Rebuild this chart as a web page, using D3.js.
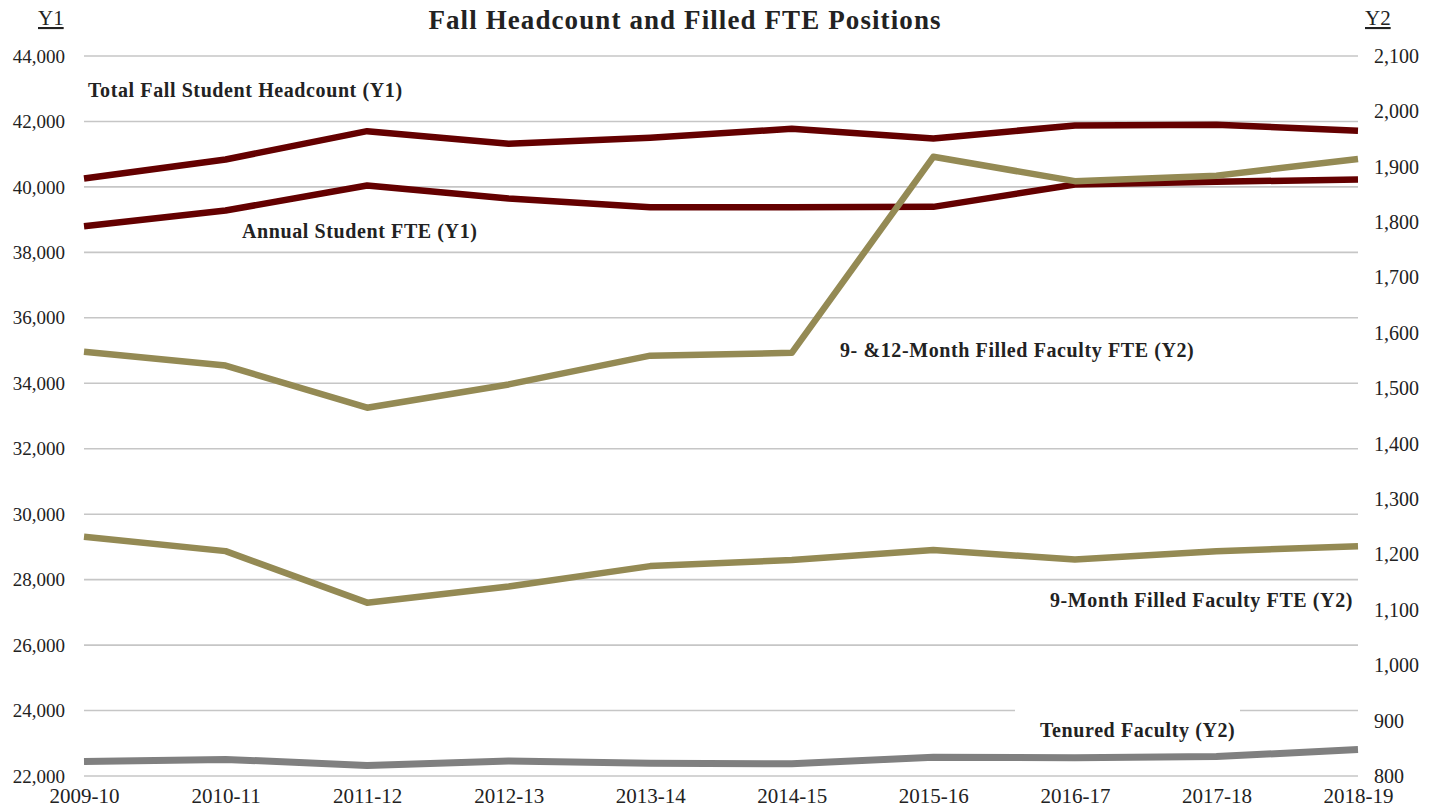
<!DOCTYPE html>
<html>
<head>
<meta charset="utf-8">
<script src="https://cdn.jsdelivr.net/npm/d3@7"></script>
<style>
  body { margin: 0; background: #fff; }
  svg text { font-family: "Liberation Serif", "DejaVu Serif", serif; fill: #222; }
  .tick line { display: none; }
  .domain { display: none; }
</style>
</head>
<body>
<div class="chart"></div>
<script>
// data
const years = ["2009-10", "2010-11", "2011-12", "2012-13", "2013-14", "2014-15", "2015-16", "2016-17", "2017-18", "2018-19"];
const headcount = [40258, 40839, 41703, 41318, 41502, 41777, 41480, 41878, 41899, 41716];
const studentFte = [38801, 39280, 40044, 39647, 39381, 39381, 39390, 40075, 40157, 40228];
const faculty912 = [1566, 1541, 1465, 1507, 1559, 1564, 1918, 1874, 1884, 1914];
const faculty9 = [1232, 1206, 1113, 1142, 1179, 1190, 1208, 1191, 1206, 1215];
const tenured = [826, 830, 819, 827, 823, 822, 834, 833, 835, 848];
const y1Ticks = [22000, 24000, 26000, 28000, 30000, 32000, 34000, 36000, 38000, 40000, 42000, 44000];
const y2Ticks = [800, 900, 1000, 1100, 1200, 1300, 1400, 1500, 1600, 1700, 1800, 1900, 2000, 2100];

const W = 1439, H = 809;
const margin = {top: 56, right: 81, bottom: 33, left: 84},
      width = W - margin.left - margin.right,
      height = H - margin.top - margin.bottom;

const red = "#640000", olive = "#948a54", grey = "#808080";

const svg = d3.select("div.chart").append("svg")
    .attr("width", W)
    .attr("height", H);

const g = svg.append("g")
    .attr("transform", "translate(" + margin.left + "," + margin.top + ")");

const x = d3.scalePoint().domain(years).range([0, width]);
const y1 = d3.scaleLinear().domain([22000, 44000]).range([height, 0]);
const y2 = d3.scaleLinear().domain([800, 2100]).range([height, 0]);

// gridlines on Y1 ticks
g.selectAll(".grid")
    .data(y1Ticks)
    .enter().append("line")
    .attr("class", "grid")
    .attr("x1", 0)
    .attr("x2", width)
    .attr("y1", d => y1(d))
    .attr("y2", d => y1(d))
    .attr("stroke", "#c6c6c6")
    .attr("stroke-width", 1.6);

// axes
const left = g.append("g")
    .call(d3.axisLeft(y1).tickValues(y1Ticks).tickFormat(d3.format(",")).tickSize(0).tickPadding(19));
left.selectAll("text").style("font-size", "19px").attr("fill", "#222");

const right = g.append("g")
    .attr("transform", "translate(" + width + ",0)")
    .call(d3.axisRight(y2).tickValues(y2Ticks).tickFormat(d3.format(",")).tickSize(0).tickPadding(16));
right.selectAll("text").style("font-size", "20px").attr("fill", "#222");

const bottom = g.append("g")
    .attr("transform", "translate(0," + height + ")")
    .call(d3.axisBottom(x).tickSize(0).tickPadding(12.5));
bottom.selectAll("text").style("font-size", "21px").attr("fill", "#222");

// white box behind the tenured label
g.append("rect")
    .attr("x", 1015 - margin.left)
    .attr("y", 706 - margin.top)
    .attr("width", 225)
    .attr("height", 42)
    .attr("fill", "#fff");

const series = [
  {values: headcount, scale: y1, color: red, w: 6.5},
  {values: studentFte, scale: y1, color: red, w: 6.5},
  {values: faculty912, scale: y2, color: olive, w: 6.5},
  {values: faculty9, scale: y2, color: olive, w: 6.5},
  {values: tenured, scale: y2, color: grey, w: 7}
];

series.forEach(s => {
  const line = d3.line()
      .x((d, i) => x(years[i]))
      .y(d => s.scale(d));
  g.append("path")
      .datum(s.values)
      .attr("d", line)
      .attr("fill", "none")
      .attr("stroke", s.color)
      .attr("stroke-width", s.w)
      .attr("stroke-linejoin", "round");
});

// series labels
const labels = [
  {text: "Total Fall Student Headcount (Y1)", x: 88, y: 97},
  {text: "Annual Student FTE (Y1)", x: 242, y: 238},
  {text: "9- &12-Month Filled Faculty FTE (Y2)", x: 840, y: 357},
  {text: "9-Month Filled Faculty FTE (Y2)", x: 1050, y: 607},
  {text: "Tenured Faculty (Y2)", x: 1040, y: 737}
];
svg.selectAll(".lbl")
    .data(labels)
    .enter().append("text")
    .attr("class", "lbl")
    .attr("x", d => d.x)
    .attr("y", d => d.y)
    .style("font-size", "20px")
    .style("font-weight", "bold")
    .style("letter-spacing", "0.6px")
    .text(d => d.text);

// title and axis names
svg.append("text")
    .attr("x", 685)
    .attr("y", 29)
    .attr("text-anchor", "middle")
    .style("font-size", "27px")
    .style("font-weight", "bold")
    .style("letter-spacing", "1.1px")
    .text("Fall Headcount and Filled FTE Positions");

svg.append("text")
    .attr("x", 38)
    .attr("y", 25)
    .style("font-size", "21px")
    .style("text-decoration", "underline")
    .text("Y1");

svg.append("text")
    .attr("x", 1365)
    .attr("y", 25)
    .style("font-size", "21px")
    .style("text-decoration", "underline")
    .text("Y2");
</script>
</body>
</html>
